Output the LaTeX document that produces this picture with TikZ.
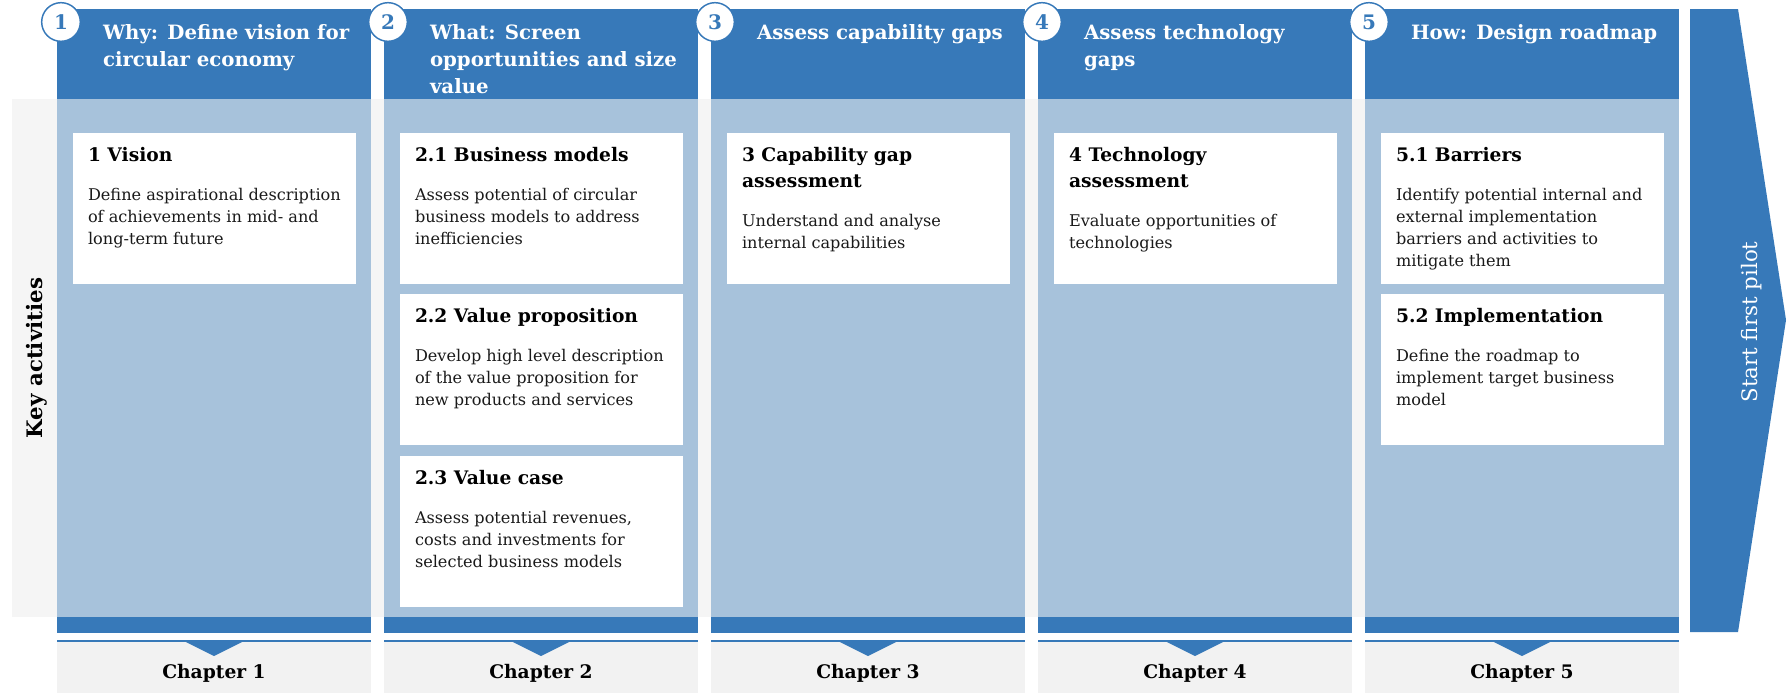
\documentclass[tikz,border=0pt]{standalone}
\usepackage{fontspec}
\setmainfont{DejaVu Serif}
\usetikzlibrary{positioning, calc}
\definecolor{hdblue}{HTML}{3779B9}
\definecolor{bodyblue}{HTML}{A7C2DB}
\definecolor{chapgray}{HTML}{F2F2F2}
\definecolor{keygray}{HTML}{F5F5F5}
\definecolor{bodyink}{HTML}{1A1A1A}
\tikzset{
    every node/.style={inner sep=0pt, outer sep=0pt},
    head/.style={anchor=north west, fill=hdblue, minimum width=235.5pt, minimum height=67.5pt},
    lane/.style={anchor=north west, fill=bodyblue, minimum width=235.5pt, minimum height=388.5pt},
    band/.style={anchor=north west, fill=hdblue, minimum width=235.5pt, minimum height=12pt},
    chap/.style={anchor=north west, fill=chapgray, minimum width=235.5pt, minimum height=39pt},
    card/.style={anchor=north west, fill=white, minimum width=212.25pt, minimum height=113.25pt},
    headtext/.style={anchor=north west, align=left, text=white, font=\fontsize{14.8}{20.25}\selectfont\bfseries},
    cardtitle/.style={anchor=north west, align=left, font=\fontsize{14}{19.5}\selectfont\bfseries},
    cardbody/.style={anchor=north west, align=left, text=bodyink, font=\fontsize{12.1}{16.5}\selectfont},
    chaptext/.style={anchor=base, font=\fontsize{14}{17}\selectfont\bfseries},
    numcirc/.style={circle, draw=hdblue, line width=1.1pt, fill=white, minimum size=29pt,
        text=hdblue, font=\fontsize{15}{15}\selectfont\bfseries},
    chevron/.style={fill=hdblue}
}
\begin{document}
\begin{tikzpicture}[x=0.75pt, y=-0.75pt]
    \useasboundingbox (0,0) rectangle (1787,693);
    % grey strip behind the lanes
    \fill[keygray] (12,99) rectangle (1679,617);
    \node[rotate=90, font=\fontsize{16}{18}\selectfont\bfseries] (key) at (37,358) {Key activities};

    % lane frames
    \node[head] (h1) at (57,9) {};
    \node[lane] (l1) at (57,99) {};
    \node[band] (b1) at (57,617) {};
    \node[chap] (c1) at (57,641) {};
    \node[head] (h2) at (384,9) {};
    \node[lane] (l2) at (384,99) {};
    \node[band] (b2) at (384,617) {};
    \node[chap] (c2) at (384,641) {};
    \node[head] (h3) at (711,9) {};
    \node[lane] (l3) at (711,99) {};
    \node[band] (b3) at (711,617) {};
    \node[chap] (c3) at (711,641) {};
    \node[head] (h4) at (1038,9) {};
    \node[lane] (l4) at (1038,99) {};
    \node[band] (b4) at (1038,617) {};
    \node[chap] (c4) at (1038,641) {};
    \node[head] (h5) at (1365,9) {};
    \node[lane] (l5) at (1365,99) {};
    \node[band] (b5) at (1365,617) {};
    \node[chap] (c5) at (1365,641) {};

    % chapter bars
    \draw[hdblue, line width=1.1pt] (c1.north west) -- (c1.north east);
    \draw[hdblue, line width=1.1pt] (c2.north west) -- (c2.north east);
    \draw[hdblue, line width=1.1pt] (c3.north west) -- (c3.north east);
    \draw[hdblue, line width=1.1pt] (c4.north west) -- (c4.north east);
    \draw[hdblue, line width=1.1pt] (c5.north west) -- (c5.north east);
    \fill[chevron] ($(c1.north)+(-30,0)$) -- ($(c1.north)+(30,0)$) -- ($(c1.north)+(0,15)$) -- cycle;
    \fill[chevron] ($(c2.north)+(-30,0)$) -- ($(c2.north)+(30,0)$) -- ($(c2.north)+(0,15)$) -- cycle;
    \fill[chevron] ($(c3.north)+(-30,0)$) -- ($(c3.north)+(30,0)$) -- ($(c3.north)+(0,15)$) -- cycle;
    \fill[chevron] ($(c4.north)+(-30,0)$) -- ($(c4.north)+(30,0)$) -- ($(c4.north)+(0,15)$) -- cycle;
    \fill[chevron] ($(c5.north)+(-30,0)$) -- ($(c5.north)+(30,0)$) -- ($(c5.north)+(0,15)$) -- cycle;
    \node[chaptext] (ch1) at ($(c1.north)+(0,37)$) {Chapter 1};
    \node[chaptext] (ch2) at ($(c2.north)+(0,37)$) {Chapter 2};
    \node[chaptext] (ch3) at ($(c3.north)+(0,37)$) {Chapter 3};
    \node[chaptext] (ch4) at ($(c4.north)+(0,37)$) {Chapter 4};
    \node[chaptext] (ch5) at ($(c5.north)+(0,37)$) {Chapter 5};

    % headings
    \node[headtext] (ht1) at ($(h1.north west)+(46,16)$) {Why: Define vision for\\circular economy};
    \node[headtext] (ht2) at ($(h2.north west)+(46,16)$) {What: Screen\\opportunities and size\\value};
    \node[headtext] (ht3) at ($(h3.north west)+(46,16)$) {Assess capability gaps};
    \node[headtext] (ht4) at ($(h4.north west)+(46,16)$) {Assess technology\\gaps};
    \node[headtext] (ht5) at ($(h5.north west)+(46,16)$) {How: Design roadmap};
    \node[numcirc] (n1) at ($(h1.north west)+(4,13)$) {1};
    \node[numcirc] (n2) at ($(h2.north west)+(4,13)$) {2};
    \node[numcirc] (n3) at ($(h3.north west)+(4,13)$) {3};
    \node[numcirc] (n4) at ($(h4.north west)+(4,13)$) {4};
    \node[numcirc] (n5) at ($(h5.north west)+(4,13)$) {5};

    % activity cards
    \node[card] (vis) at (73,133) {};
    \node[cardtitle] at ($(vis.north west)+(15,14)$) {1 Vision};
    \node[cardbody] at ($(vis.north west)+(15,55)$) {Define aspirational description\\of achievements in mid- and\\long-term future};

    \node[card] (bm) at (400,133) {};
    \node[cardtitle] at ($(bm.north west)+(15,14)$) {2.1 Business models};
    \node[cardbody] at ($(bm.north west)+(15,55)$) {Assess potential of circular\\business models to address\\inefficiencies};
    \node[card] (vp) at (400,294) {};
    \node[cardtitle] at ($(vp.north west)+(15,14)$) {2.2 Value proposition};
    \node[cardbody] at ($(vp.north west)+(15,55)$) {Develop high level description\\of the value proposition for\\new products and services};
    \node[card] (vc) at (400,456) {};
    \node[cardtitle] at ($(vc.north west)+(15,14)$) {2.3 Value case};
    \node[cardbody] at ($(vc.north west)+(15,55)$) {Assess potential revenues,\\costs and investments for\\selected business models};

    \node[card] (cap) at (727,133) {};
    \node[cardtitle] at ($(cap.north west)+(15,14)$) {3 Capability gap\\assessment};
    \node[cardbody] at ($(cap.north west)+(15,81)$) {Understand and analyse\\internal capabilities};

    \node[card] (tec) at (1054,133) {};
    \node[cardtitle] at ($(tec.north west)+(15,14)$) {4 Technology\\assessment};
    \node[cardbody] at ($(tec.north west)+(15,81)$) {Evaluate opportunities of\\technologies};

    \node[card] (bar) at (1381,133) {};
    \node[cardtitle] at ($(bar.north west)+(15,14)$) {5.1 Barriers};
    \node[cardbody] at ($(bar.north west)+(15,55)$) {Identify potential internal and\\external implementation\\barriers and activities to\\mitigate them};
    \node[card] (imp) at (1381,294) {};
    \node[cardtitle] at ($(imp.north west)+(15,14)$) {5.2 Implementation};
    \node[cardbody] at ($(imp.north west)+(15,55)$) {Define the roadmap to\\implement target business\\model};

    % pilot arrow
    \fill[hdblue] (1690,9) -- (1738,9) -- (1786,320) -- (1738,632) -- (1690,632) -- cycle;
    \node[rotate=90, text=white, font=\fontsize{16}{20}\selectfont] (pilot) at (1752,322) {Start first pilot};
\end{tikzpicture}
\end{document}
